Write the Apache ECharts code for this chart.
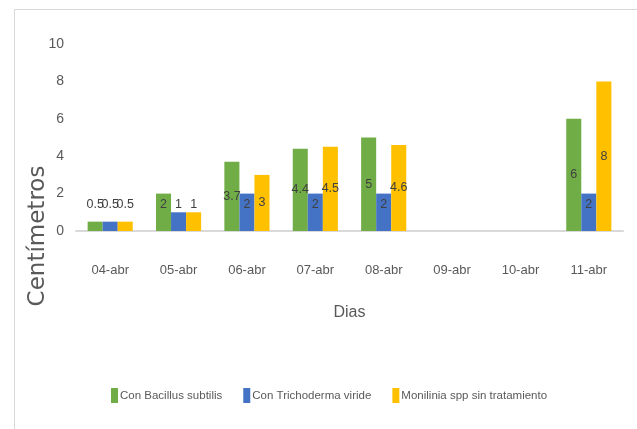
<!DOCTYPE html>
<html>
<head>
<meta charset="utf-8">
<script src="https://cdn.jsdelivr.net/npm/echarts@6/dist/echarts.min.js"></script>
<style>
  html, body { margin: 0; padding: 0; background: #fff; }
  #main { width: 637px; height: 429px; }
</style>
</head>
<body>
<div id="main"></div>
<script>
// datos
var dias = ["04-abr", "05-abr", "06-abr", "07-abr", "08-abr", "09-abr", "10-abr", "11-abr"];
var bacillus = [0.5, 2, 3.7, 4.4, 5, null, null, 6];
var trichoderma = [0.5, 1, 2, 2, 2, null, null, 2];
var monilinia = [0.5, 1, 3, 4.5, 4.6, null, null, 8];
var yTicks = [0, 2, 4, 6, 8, 10];

var font = "'Liberation Sans', Arial, sans-serif";
var textColor = "#595959";

// etiquetas centradas; las barras bajas levantan la etiqueta
function withLabels(arr) {
  return arr.map(function (v) {
    if (v === null) return null;
    var h = v * 18.7 / 2;
    var lift = Math.max(0, 26 - h);
    return { value: v, label: { offset: [0, -lift] } };
  });
}

var chart = echarts.init(document.getElementById("main"));
chart.setOption({
  animation: false,
  backgroundColor: "#fff",
  grid: { left: 76, right: 14, top: 44, bottom: 198 },
  legend: {
    left: 106,
    top: 383,
    width: 540,
    itemGap: 21,
    itemWidth: 7,
    itemHeight: 15,
    icon: "rect",
    textStyle: { color: textColor, fontSize: 11.5, fontFamily: font, padding: [0, 0, 0, -3] },
    data: ["Con Bacillus subtilis", "Con Trichoderma viride", "Monilinia spp sin tratamiento"]
  },
  xAxis: {
    type: "category",
    data: dias,
    name: "Dias",
    nameLocation: "middle",
    nameGap: 74,
    nameTextStyle: { color: textColor, fontSize: 16, fontFamily: font },
    axisLine: { lineStyle: { color: "#d9d9d9", width: 2 } },
    axisTick: { show: false },
    axisLabel: { color: textColor, fontSize: 13, fontFamily: font, margin: 33 }
  },
  yAxis: {
    type: "value",
    min: 0,
    max: 10,
    interval: 2,
    axisLine: { show: false },
    axisTick: { show: false },
    splitLine: { show: false },
    axisLabel: {
      color: textColor, fontSize: 14, fontFamily: font, margin: 12,
      formatter: function (v) { return yTicks.indexOf(v) >= 0 ? String(v) : ""; }
    }
  },
  series: [
    { name: "Con Bacillus subtilis", type: "bar", data: withLabels(bacillus) },
    { name: "Con Trichoderma viride", type: "bar", data: withLabels(trichoderma) },
    { name: "Monilinia spp sin tratamiento", type: "bar", data: withLabels(monilinia) }
  ].map(function (s, i) {
    s.barGap = "0%";
    s.barCategoryGap = "34%";
    s.itemStyle = { color: ["#70ad47", "#4472c4", "#ffc000"][i] };
    s.label = { show: true, position: "inside", color: "#404040", fontSize: 12.5, fontFamily: font };
    return s;
  }),
  graphic: [
    { type: "line", shape: { x1: 14, y1: 9.5, x2: 637, y2: 9.5 }, style: { stroke: "#d9d9d9", lineWidth: 1 } },
    { type: "line", shape: { x1: 14.5, y1: 9, x2: 14.5, y2: 429 }, style: { stroke: "#d9d9d9", lineWidth: 1 } },
    {
      type: "text", x: 38, y: 236, rotation: Math.PI / 2,
      style: { text: "Centímetros", fill: textColor, font: "23px 'DejaVu Sans', sans-serif", align: "center", verticalAlign: "middle" }
    }
  ]
});
</script>
</body>
</html>
